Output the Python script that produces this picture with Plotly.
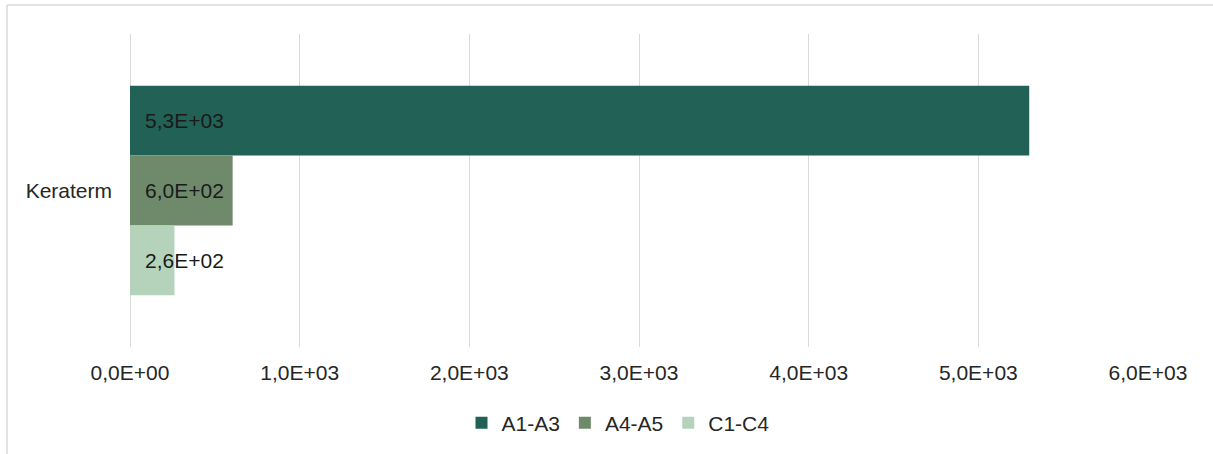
import plotly.graph_objects as go

categories = ["Keraterm"]
series_names = ["A1-A3", "A4-A5", "C1-C4"]
series_values = [[5300], [605], [262]]
series_colors = ["#226155", "#6f8a6b", "#b5d3bb"]
tick_values = [0, 1000, 2000, 3000, 4000, 5000, 6000]


def sci_comma(v):
    s = "%.1E" % v
    return s.replace(".", ",")


tick_labels = [sci_comma(v) for v in tick_values]

FONT = "Liberation Sans, Arial, sans-serif"
TXT = "#262626"
FS = 21

fig = go.Figure()
for name, vals, col in zip(series_names, series_values, series_colors):
    fig.add_trace(go.Bar(
        y=categories, x=vals, name=name, orientation="h",
        marker=dict(color=col, line=dict(width=0)),
        hoverinfo="skip",
    ))

W, H = 1213, 454
L, R, T, B = 130, 65, 34, 106
pw, ph = W - L - R, H - T - B
bargap = 0.331
bar_px = (1 - bargap) * ph / len(series_names)

annotations = []
n = len(series_names)
for i, (vals, name) in enumerate(zip(series_values, series_names)):
    for c, v in zip(categories, vals):
        annotations.append(dict(
            x=0, y=c, xref="x", yref="y", text=sci_comma(v),
            showarrow=False, xanchor="left", yanchor="middle",
            xshift=13, yshift=-(i - (n - 1) / 2) * bar_px,
            font=dict(family=FONT, size=FS, color="#1a1a1a"),
        ))

shapes = [
    dict(type="line", xref="paper", yref="paper",
         x0=(7 - L) / pw, x1=(W + 5 - L) / pw, y0=1 + (T - 5) / ph, y1=1 + (T - 5) / ph,
         line=dict(color="#d9d9d9", width=1.5)),
    dict(type="line", xref="paper", yref="paper",
         x0=(7 - L) / pw, x1=(7 - L) / pw, y0=1 + (T - 5) / ph, y1=-(H + 5 - T - ph) / ph,
         line=dict(color="#d9d9d9", width=1.5)),
]

fig.update_layout(
    width=W, height=H,
    margin=dict(l=L, r=R, t=T, b=B, pad=0),
    paper_bgcolor="white", plot_bgcolor="white",
    barmode="group", bargap=bargap, bargroupgap=0,
    font=dict(family=FONT, size=FS, color=TXT),
    xaxis=dict(
        range=[0, 6000], tickvals=tick_values, ticktext=tick_labels,
        showgrid=True, gridcolor="#d9d9d9", gridwidth=1.3,
        zeroline=True, zerolinecolor="#d9d9d9", zerolinewidth=1.3,
        showline=False, ticks="",
        ticklabelstandoff=11, tickfont=dict(size=FS, color=TXT),
        fixedrange=True,
    ),
    yaxis=dict(
        autorange="reversed", showgrid=False, zeroline=False, showline=False,
        ticks="", ticklabelstandoff=17, tickfont=dict(size=FS, color=TXT),
        fixedrange=True,
    ),
    showlegend=True,
    legend=dict(
        orientation="h", x=(618 - L) / pw, xanchor="center",
        y=-(423 - T - ph) / ph, yanchor="middle",
        font=dict(family=FONT, size=FS, color=TXT),
        traceorder="normal", itemwidth=30, bgcolor="rgba(0,0,0,0)",
    ),
    annotations=annotations,
    shapes=shapes,
)

fig.write_html("out.html")
